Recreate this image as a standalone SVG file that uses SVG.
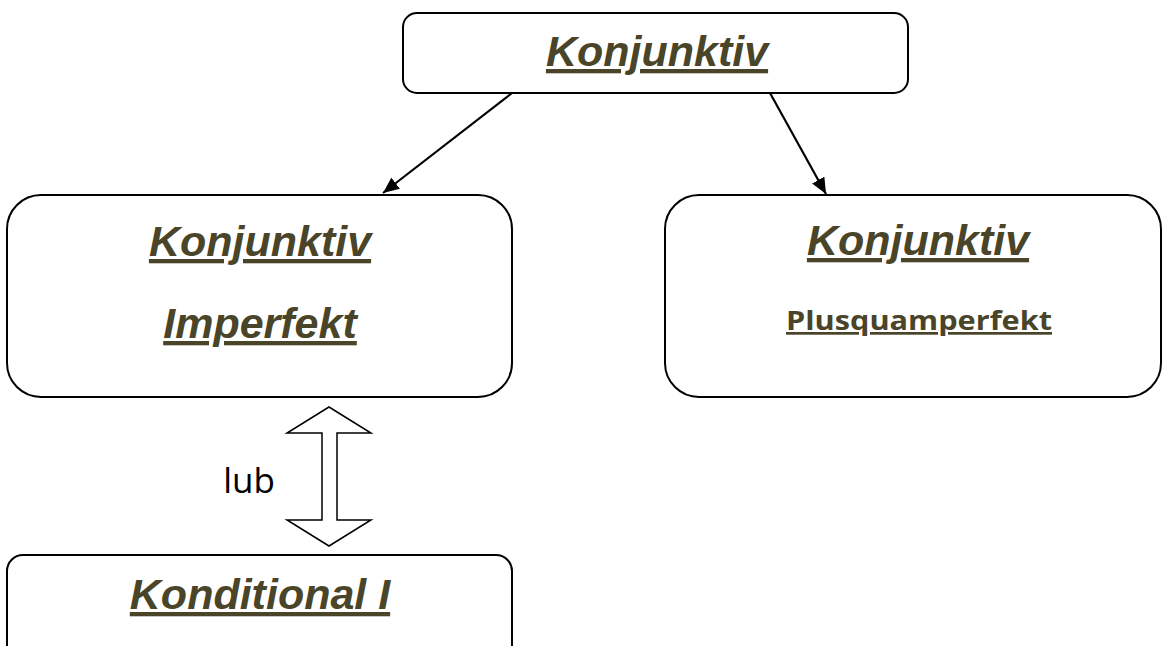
<svg xmlns="http://www.w3.org/2000/svg" width="1162" height="646" viewBox="0 0 1162 646">
<defs>
<style>
.box{fill:#fff;stroke:#000;stroke-width:2}
.t{font-family:"Liberation Sans",Arial,sans-serif;font-weight:bold;font-style:italic;fill:#4a4429;text-decoration:underline;text-anchor:middle}
.c{font-family:"Open Sans","Liberation Sans",sans-serif;font-weight:bold;fill:#4a4429;text-decoration:underline;text-anchor:middle}
.edge{stroke:#000;stroke-width:2.2;fill:none}
</style>
<marker id="ah" viewBox="0 0 16 14" refX="16" refY="7" markerWidth="16" markerHeight="14" markerUnits="userSpaceOnUse" orient="auto">
<path d="M0,0 L16,7 L0,14 z" fill="#000"/>
</marker>
</defs>
<g id="connectors">
<line class="edge" x1="512" y1="93" x2="383" y2="193" marker-end="url(#ah)"/>
<line class="edge" x1="770" y1="93" x2="826" y2="194" marker-end="url(#ah)"/>
<path d="M329,407 L371,433 L337,433 L337,520 L371,520 L329,546 L287,520 L322,520 L322,433 L287,433 Z" fill="#fff" stroke="#000" stroke-width="1.5"/>
<text x="249" y="493" font-family="'Open Sans','Liberation Sans',sans-serif" font-size="35" fill="#000" text-anchor="middle">lub</text>
</g>
<g id="node-konjunktiv">
<rect class="box" x="403" y="13" width="505" height="80" rx="14"/>
<text class="t" x="657" y="66" font-size="43">Konjunktiv</text>
</g>
<g id="node-imperfekt">
<rect class="box" x="7" y="195" width="505" height="202" rx="34"/>
<text class="t" x="260" y="256" font-size="43">Konjunktiv</text>
<text class="t" x="260" y="338" font-size="43">Imperfekt</text>
</g>
<g id="node-plusquamperfekt">
<rect class="box" x="665" y="195" width="496" height="202" rx="34"/>
<text class="t" x="918" y="255" font-size="43">Konjunktiv</text>
<text class="c" x="919" y="330" font-size="27" textLength="266" lengthAdjust="spacingAndGlyphs">Plusquamperfekt</text>
</g>
<g id="node-konditional">
<rect class="box" x="7" y="555" width="505" height="110" rx="16"/>
<text class="t" x="260" y="609" font-size="43">Konditional I</text>
</g>
</svg>
